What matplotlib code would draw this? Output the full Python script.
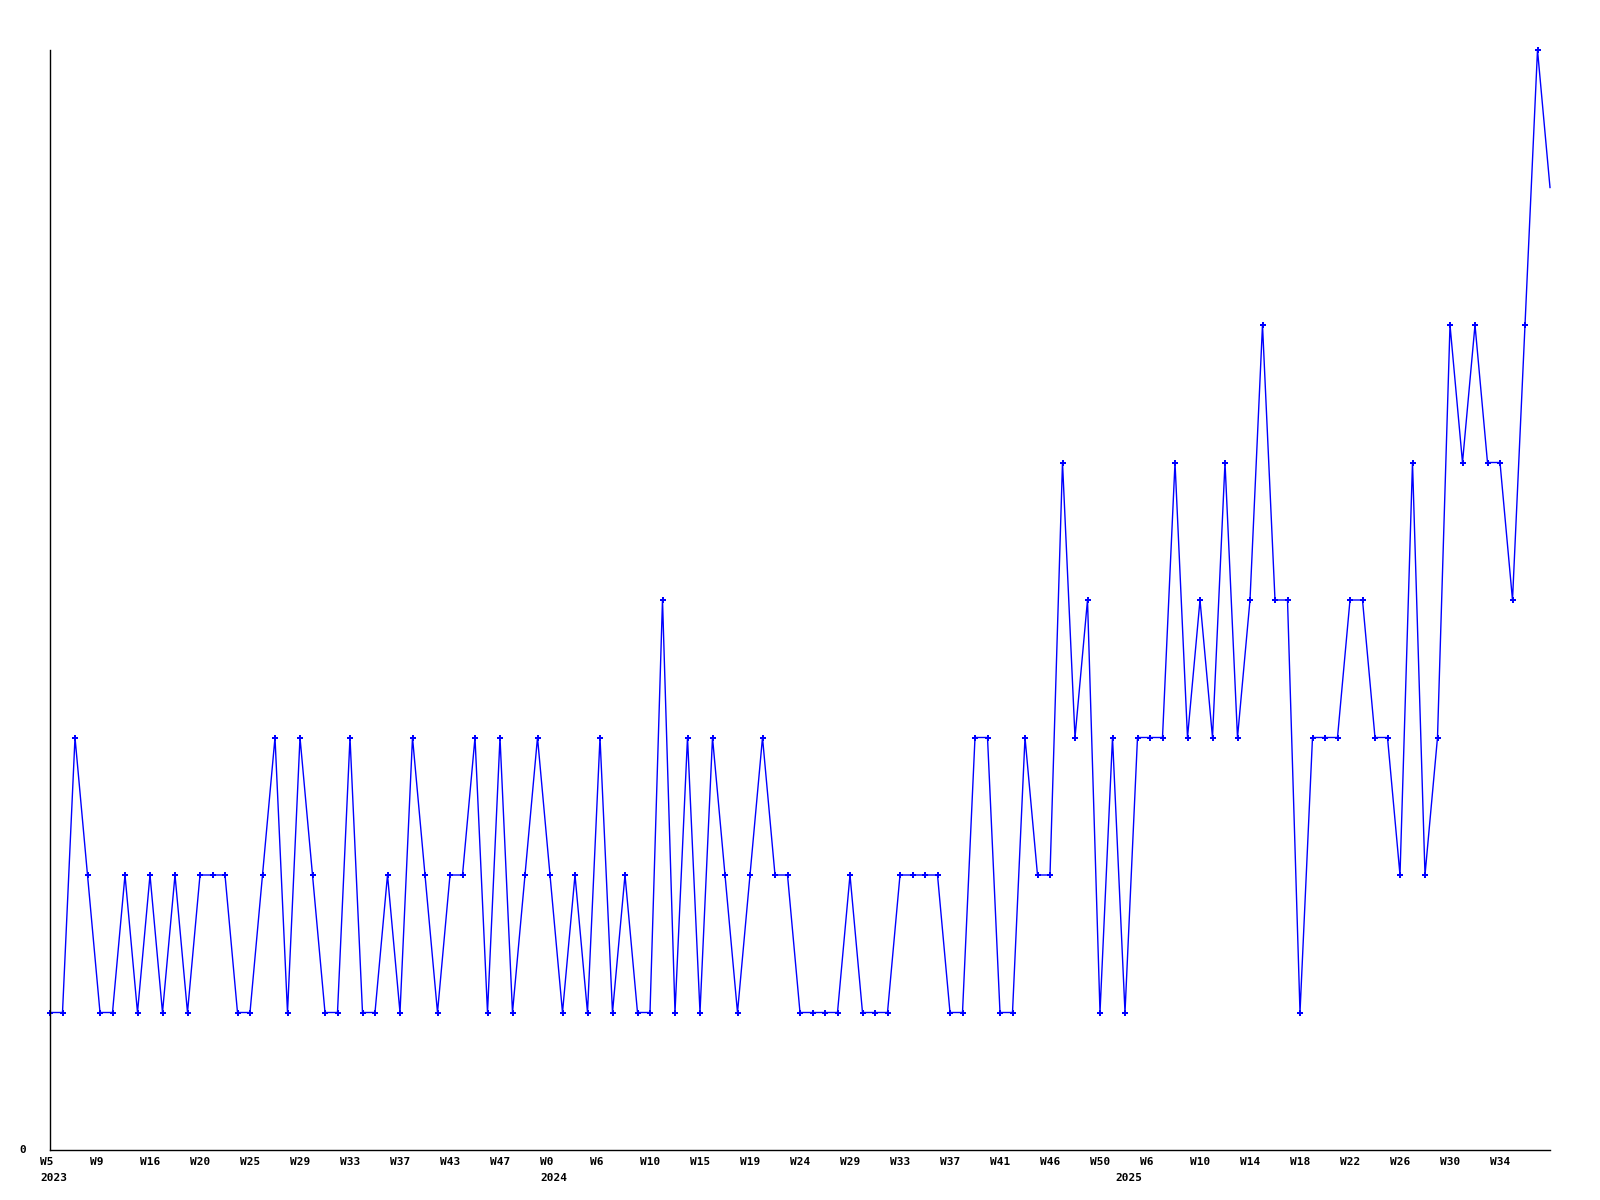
import matplotlib
matplotlib.use("Agg")
import matplotlib.pyplot as plt

# weekly counts, one value per week (121 weeks)
values = [
    1, 1, 3, 2, 1, 1, 2, 1, 2, 1, 2, 1, 2, 2, 2, 1, 1, 2, 3, 1,
    3, 2, 1, 1, 3, 1, 1, 2, 1, 3, 2, 1, 2, 2, 3, 1, 3, 1, 2, 3,
    2, 1, 2, 1, 3, 1, 2, 1, 1, 4, 1, 3, 1, 3, 2, 1, 2, 3, 2, 2,
    1, 1, 1, 1, 2, 1, 1, 1, 2, 2, 2, 2, 1, 1, 3, 3, 1, 1, 3, 2,
    2, 5, 3, 4, 1, 3, 1, 3, 3, 3, 5, 3, 4, 3, 5, 3, 4, 6, 4, 4,
    1, 3, 3, 3, 4, 4, 3, 3, 2, 5, 2, 3, 6, 5, 6, 5, 5, 4, 6, 8,
    7,
]

week_labels = [
    "W5", "W9", "W16", "W20", "W25", "W29", "W33", "W37", "W43", "W47",
    "W0", "W6", "W10", "W15", "W19", "W24", "W29", "W33", "W37", "W41",
    "W46", "W50", "W6", "W10", "W14", "W18", "W22", "W26", "W30", "W34",
]
tick_idx = list(range(0, 4 * len(week_labels), 4))

years = ["2023", "2024", "2025"]
year_idx = [0, 40, 86]

x = list(range(len(values)))

fig = plt.figure(figsize=(16, 12), dpi=100)
ax = fig.add_axes([50 / 1600, 50 / 1200, 1500 / 1600, 1100 / 1200])

ax.plot(x, values, color="#0000ff", linewidth=1.0, marker="P", markersize=4,
        markeredgewidth=0, markevery=list(range(len(values) - 1)), clip_on=False)

ax.set_xlim(0, len(values) - 1)
ax.set_ylim(0, max(values))

for side in ["top", "right"]:
    ax.spines[side].set_visible(False)
for side in ["left", "bottom"]:
    ax.spines[side].set_color("black")
    ax.spines[side].set_linewidth(1.0)

ax.set_xticks([])
ax.set_yticks([])

font = dict(family="DejaVu Sans Mono", weight="bold", fontsize=8, color="black")

for i, lab in zip(tick_idx, week_labels):
    ax.annotate(lab, xy=(i, 0), xycoords=("data", "axes fraction"),
                xytext=(-10, -7), textcoords="offset pixels",
                ha="left", va="top", **font)

for i, yr in zip(year_idx, years):
    ax.annotate(yr, xy=(i, 0), xycoords=("data", "axes fraction"),
                xytext=(-10, -23), textcoords="offset pixels",
                ha="left", va="top", **font)

ax.annotate("0", xy=(0, 0), xycoords="axes fraction",
            xytext=(-24, 0), textcoords="offset pixels",
            ha="right", va="center", **font)

fig.savefig("out.png", dpi=100, facecolor="white")
plt.close(fig)
